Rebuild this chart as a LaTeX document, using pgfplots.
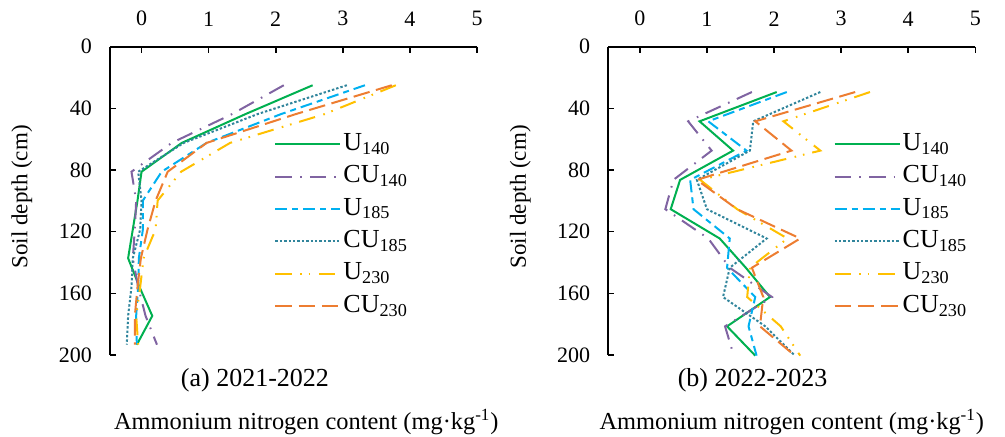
\documentclass[border=0pt]{standalone}
\usepackage{fontspec}
\setmainfont{Liberation Serif}
\usepackage{pgfplots}
\usepackage{pgfplotstable}
\pgfplotsset{compat=1.18}

\definecolor{cgreen}{RGB}{0,176,80}
\definecolor{cpurple}{RGB}{128,100,162}
\definecolor{cblue}{RGB}{0,176,240}
\definecolor{cteal}{RGB}{49,133,156}
\definecolor{cyellow}{RGB}{255,192,0}
\definecolor{corange}{RGB}{237,125,49}

\pgfplotstableread{
d     U140  CU140  U185  CU185  U230  CU230
25    2.55  2.12   3.33  3.06   3.79  3.73
43.7  1.55  1.35   2.08  1.73   2.73  2.30
62.4  0.60  0.45   0.97  0.63   1.32  0.97
81.1  0.00  -0.15  0.30  -0.05  0.59  0.39
99.8  -0.06 -0.08  0.02  0.00   0.24  0.21
118.5 -0.13 -0.10  0.02  -0.02  0.21  0.09
137.2 -0.20 -0.13  -0.04 -0.13  0.03  -0.01
155.9 -0.03 -0.05  -0.05 -0.15  -0.02 -0.06
174.6 0.16  0.06   -0.08 -0.20  -0.08 -0.10
193.3 -0.07 0.23   -0.07 -0.22  -0.05 -0.10
}\dataA

\pgfplotstableread{
d      U140 CU140 U185 CU185 U230 CU230
29.4   2.04 1.67  2.19 2.69  3.43 3.21
48.4   0.89 0.72  1.02 1.69  2.14 1.72
67.4   1.39 1.07  1.59 1.64  2.69 2.26
86.4   0.60 0.50  0.75 0.85  0.90 0.85
105.4  0.46 0.38  0.80 1.00  1.45 1.45
124.4  1.19 1.02  1.34 1.89  2.20 2.39
143.4  1.58 1.34  1.30 1.34  1.64 1.67
162.4  1.94 1.97  1.72 1.24  1.60 1.84
181.4  1.30 1.27  1.62 1.87  2.10 1.79
200.4  1.72 1.40  1.74 2.31  2.39 2.31
}\dataB

\tikzset{
  sU140/.style={cgreen, solid, line width=1pt},
  sCU140/.style={cpurple, line width=1pt, dash pattern=on 8.3pt off 4pt on 0.8pt off 4.1pt},
  sU185/.style={cblue, line width=1pt, dash pattern=on 6pt off 2.5pt on 3pt off 2.5pt},
  sCU185/.style={cteal, line width=1pt, dash pattern=on 1.2pt off 1pt},
  sU230/.style={cyellow, line width=1pt, dash pattern=on 8.3pt off 4pt on 0.8pt off 3.5pt on 0.8pt off 4.3pt},
  sCU230/.style={corange, line width=1pt, dash pattern=on 8.3pt off 3.3pt},
}

\pgfplotsset{
  myaxis/.style={
    scale only axis, width=183.5pt, height=154.15pt,
    xmin=-0.47, xmax=5, ymin=0, ymax=200, y dir=reverse,
    axis x line=top, axis y line=left,
    axis line style={-, line width=1pt, black},
    tick align=inside, major tick length=3pt,
    tick style={line width=0.8pt, black},
    xtick={0,1,2,3,4,5}, ytick={0,40,80,120,160,200},
    ticklabel style={font=\fontsize{11}{13}\selectfont},
    /pgf/number format/assume math mode=true,
    xticklabel style={yshift=6.8pt},
    yticklabel style={xshift=-5.5pt},
    ylabel={Soil depth (cm)},
    ylabel style={at={(axis description cs:-0.24,0.513)}, anchor=center, font=\fontsize{11.5}{13}\selectfont},
    xlabel style={anchor=center, font=\fontsize{12.2}{14}\selectfont},
    legend style={draw=none, fill=none, anchor=north west,
      font=\fontsize{13}{15.6}\selectfont, row sep=0.2pt, inner sep=0pt,
      nodes={inner sep=1pt, text height=10pt, text depth=4pt}},
    legend cell align=left,
    legend image code/.code={\draw[##1] (0pt,0pt) -- (32.5pt,0pt);},
    clip=false,
  }
}

\begin{document}
\begin{tikzpicture}
\path[use as bounding box] (0,0) rectangle (502.5pt,218pt);
\begin{axis}[myaxis, at={(55pt,40.5pt)}, anchor=south west,
  xlabel={Ammonium nitrogen content (mg·kg\textsuperscript{-1})},
  xlabel style={at={(axis description cs:0.535,-0.217)}},
  legend style={at={(axis description cs:0.447,0.737)}}]
\addplot[sU140] table[x=U140,y=d]{\dataA};
\addplot[sCU140] table[x=CU140,y=d]{\dataA};
\addplot[sU185] table[x=U185,y=d]{\dataA};
\addplot[sCU185] table[x=CU185,y=d]{\dataA};
\addplot[sU230] table[x=U230,y=d]{\dataA};
\addplot[sCU230] table[x=CU230,y=d]{\dataA};
\legend{U\textsubscript{140},CU\textsubscript{140},U\textsubscript{185},CU\textsubscript{185},U\textsubscript{230},CU\textsubscript{230}}
\node[font=\fontsize{13}{15}\selectfont] at (axis description cs:0.395,-0.081) {(a) 2021-2022};
\end{axis}
\begin{axis}[myaxis, at={(304.15pt,40.5pt)}, anchor=south west,
  xlabel={Ammonium nitrogen content (mg·kg\textsuperscript{-1})},
  xlabel style={at={(axis description cs:0.5,-0.217)}},
  legend style={at={(axis description cs:0.613,0.737)}}]
\addplot[sU140] table[x=U140,y=d]{\dataB};
\addplot[sCU140] table[x=CU140,y=d]{\dataB};
\addplot[sU185] table[x=U185,y=d]{\dataB};
\addplot[sCU185] table[x=CU185,y=d]{\dataB};
\addplot[sU230] table[x=U230,y=d]{\dataB};
\addplot[sCU230] table[x=CU230,y=d]{\dataB};
\legend{U\textsubscript{140},CU\textsubscript{140},U\textsubscript{185},CU\textsubscript{185},U\textsubscript{230},CU\textsubscript{230}}
\node[font=\fontsize{13}{15}\selectfont] at (axis description cs:0.393,-0.081) {(b) 2022-2023};
\end{axis}
\end{tikzpicture}
\end{document}
